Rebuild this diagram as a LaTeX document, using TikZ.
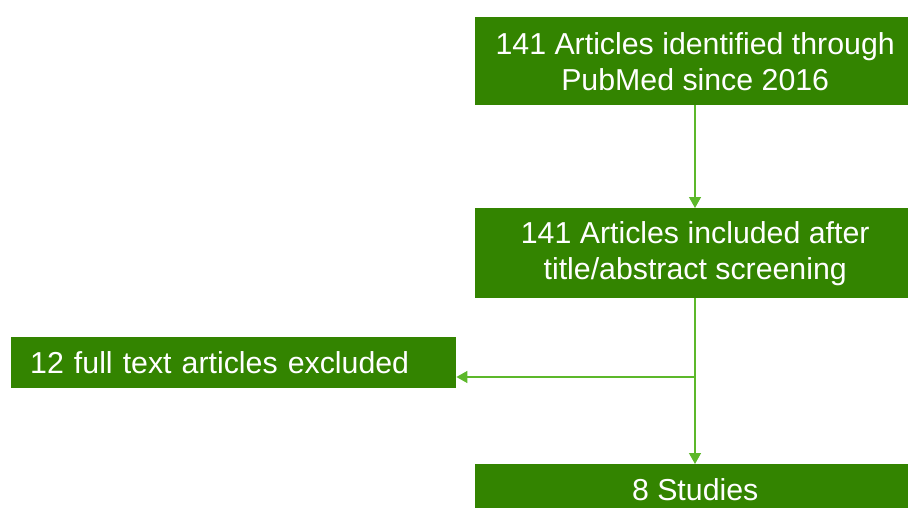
\documentclass[tikz,border=0pt]{standalone}
\usepackage{fontspec}
\setmainfont{Liberation Sans}
\usetikzlibrary{arrows.meta}
\definecolor{boxgreen}{HTML}{338400}
\definecolor{linegreen}{HTML}{5CB82A}
\tikzset{
  box/.style={draw=none, fill=boxgreen, text=white, font=\fontsize{30.3}{36}\selectfont, align=center, inner sep=0pt, anchor=north west},
  conn/.style={draw=linegreen, line width=1.3pt, -{Triangle[length=11pt,width=12pt]}}
}
\begin{document}
\begin{tikzpicture}[x=1pt,y=-1pt]
\useasboundingbox (0,0) rectangle (908,508);
\clip (0,0) rectangle (908,508);
\node[box, minimum width=440, minimum height=88] (a) at (475,17) {141 Articles identified through\\PubMed since 2016};
\node[box, minimum width=440, minimum height=90] (b) at (475,208) {141 Articles included after\\title/abstract screening};
\node[box, minimum width=445, minimum height=51, inner xsep=19, text width=407, align=left] (c) at (11,337) {12 full text articles excluded};
\node[box, minimum width=440, minimum height=51] (d) at (475,464) {8 Studies};
\coordinate (j) at (695,377);
\draw[conn] (a.south -| j) -- (b.north -| j);
\draw[conn] (b.south -| j) -- (d.north -| j);
\draw[conn] (j) -- (c.east |- j);
\end{tikzpicture}
\end{document}
